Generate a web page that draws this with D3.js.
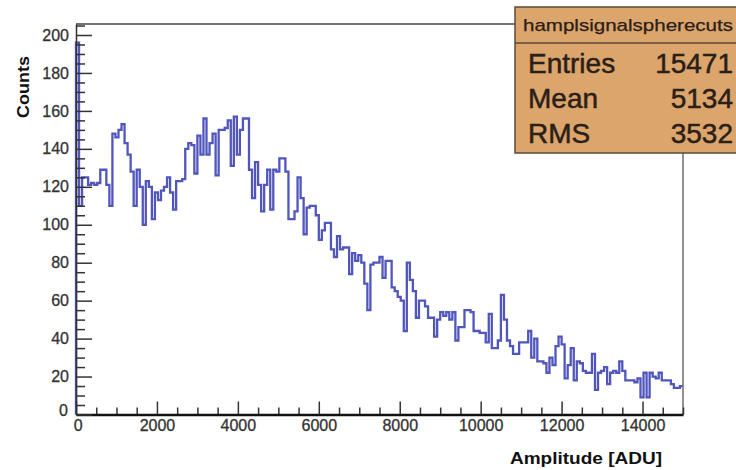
<!DOCTYPE html>
<html>
<head>
<meta charset="utf-8">
<script src="https://cdn.jsdelivr.net/npm/d3@7"></script>
<style>
  html, body { margin: 0; padding: 0; background: #ffffff; }
  svg { display: block; }
  text { font-family: "Liberation Sans", Arial, Helvetica, sans-serif; }
</style>
</head>
<body>
<svg id="chart" width="736" height="470"></svg>
<script>
// ---------------- DATA ----------------
const histName = "hamplsignalspherecuts";
const xTitle = "Amplitude [ADU]";
const yTitle = "Counts";
const xMin = 0, xMax = 15000, nBins = 200;
const counts = [
  196,110,125,125,121,122,121,122,129,129,
  121,110,148,146,150,153,143,137,128,110,
  129,120,100,123,120,103,117,113,118,120,
  125,117,108,123,123,124,140,143,142,127,
  147,137,156,137,143,148,126,150,150,151,
  155,131,157,137,150,156,156,129,114,133,
  121,107,121,129,108,129,128,135,135,128,
  103,103,107,125,114,95,109,110,110,105,
  92,97,101,101,87,83,94,87,88,88,
  74,85,81,84,80,69,55,79,80,80,
  83,72,81,81,67,65,62,60,44,80,
  71,65,51,60,60,57,51,51,41,50,
  54,52,54,50,54,39,46,46,55,55,
  54,44,44,43,43,38,53,35,35,39,
  63,50,39,36,32,32,38,38,38,44,
  30,40,28,28,27,22,30,26,36,41,
  37,19,26,35,18,28,27,23,22,22,
  32,13,22,23,25,16,22,23,22,28,
  23,18,18,18,17,19,9,22,9,22,
  20,19,22,18,18,18,16,14,14,15
];
const xTicks = [0, 2000, 4000, 6000, 8000, 10000, 12000, 14000];
const yTicks = [0, 20, 40, 60, 80, 100, 120, 140, 160, 180, 200];
const statLabels = ["Entries", "Mean", "RMS"];
const statValues = ["15471", "5134", "3532"];

// ---------------- LAYOUT ----------------
const L = 76, R = 683, T = 24, B = 414.5;
const yMaxAxis = 205.8;

const svg = d3.select("#chart");
const x = d3.scaleLinear().domain([xMin, xMax]).range([L, R]);
const y = d3.scaleLinear().domain([0, yMaxAxis]).range([B, T]);
const binW = (xMax - xMin) / nBins;

// Histogram step path
const pts = [[x(xMin), y(0)]];
counts.forEach((c, i) => {
  const x0 = xMin + i * binW, x1 = x0 + binW;
  pts.push([x(x0), y(c)]);
  pts.push([x(x1), y(c)]);
});
svg.append("path")
  .attr("d", d3.line()(pts))
  .attr("fill", "none")
  .attr("stroke", "#5156bd")
  .attr("stroke-width", 2.3)
  .attr("stroke-linejoin", "miter");

// Frame: top and right
svg.append("line").attr("x1", L).attr("x2", R).attr("y1", T).attr("y2", T)
  .attr("stroke", "#444").attr("stroke-width", 1.6);
svg.append("line").attr("x1", R).attr("x2", R).attr("y1", T).attr("y2", B)
  .attr("stroke", "#777").attr("stroke-width", 1.6);

// X axis (ticks inward/up)
const xMinorTicks = d3.range(xMin, xMax + 1, 500).filter(v => v % 2000 !== 0);
const gxMinor = svg.append("g").attr("transform", `translate(0,${B})`)
  .call(d3.axisBottom(x).tickValues(xMinorTicks).tickSizeInner(-7).tickSizeOuter(0).tickFormat(""));
const gx = svg.append("g").attr("transform", `translate(0,${B})`)
  .call(d3.axisBottom(x).tickValues(xTicks).tickSizeInner(-13).tickSizeOuter(0).tickPadding(5).tickFormat(d3.format("d")));
gx.select(".domain").attr("stroke", "#111").attr("stroke-width", 2.5);
gxMinor.select(".domain").remove();
[gx, gxMinor].forEach(g => g.selectAll(".tick line").attr("stroke", "#333").attr("stroke-width", 1.5));
gx.selectAll(".tick text")
  .attr("font-size", 16).attr("fill", "#333")
  .attr("stroke", "#333").attr("stroke-width", 0.3)
  .attr("font-family", "Liberation Sans, Arial, sans-serif");

// Y axis (ticks inward/right)
const yMinorTicks = d3.range(0, 206, 5).filter(v => v % 20 !== 0);
const gyMinor = svg.append("g").attr("transform", `translate(${L},0)`)
  .call(d3.axisLeft(y).tickValues(yMinorTicks).tickSizeInner(-9).tickSizeOuter(0).tickFormat(""));
const gy = svg.append("g").attr("transform", `translate(${L},0)`)
  .call(d3.axisLeft(y).tickValues(yTicks).tickSizeInner(-16).tickSizeOuter(0).tickPadding(7).tickFormat(d3.format("d")));
gy.select(".domain").attr("stroke", "#333").attr("stroke-width", 1.5);
gyMinor.select(".domain").remove();
[gy, gyMinor].forEach(g => g.selectAll(".tick line").attr("stroke", "#333").attr("stroke-width", 1.5));
gy.selectAll(".tick text")
  .attr("font-size", 16).attr("fill", "#333")
  .attr("stroke", "#333").attr("stroke-width", 0.3)
  .attr("font-family", "Liberation Sans, Arial, sans-serif");
// ROOT-style offset of the zero labels
gy.selectAll(".tick").filter(d => d === 0).select("text").attr("dy", "0.05em").attr("x", -8);
gx.selectAll(".tick").filter(d => d === 0).select("text").attr("dx", "0.1em");

// Axis titles
svg.append("text")
  .attr("x", 662).attr("y", 464)
  .attr("text-anchor", "end")
  .attr("font-size", 17).attr("font-weight", "bold").attr("fill", "#111")
  .attr("textLength", 152).attr("lengthAdjust", "spacingAndGlyphs")
  .text(xTitle);
svg.append("text")
  .attr("transform", "translate(29,118) rotate(-90)")
  .attr("text-anchor", "start")
  .attr("font-size", 17).attr("font-weight", "bold").attr("fill", "#111")
  .attr("textLength", 62).attr("lengthAdjust", "spacingAndGlyphs")
  .text(yTitle);

// Stats box
const bx = 515, by = 7, bw = 240, bh = 146, hdr = 36;
const box = svg.append("g");
box.append("rect").attr("x", bx).attr("y", by).attr("width", bw).attr("height", bh)
  .attr("fill", "#dba56b").attr("stroke", "#5b4a3a").attr("stroke-width", 1.5);
box.append("line").attr("x1", bx).attr("x2", bx + bw).attr("y1", by + hdr).attr("y2", by + hdr)
  .attr("stroke", "#5b4a3a").attr("stroke-width", 1.5);
box.append("text").attr("x", 523).attr("y", 31)
  .attr("font-size", 17).attr("fill", "#2a2018")
  .attr("stroke", "#2a2018").attr("stroke-width", 0.25)
  .attr("textLength", 210).attr("lengthAdjust", "spacingAndGlyphs")
  .text(histName);
statLabels.forEach((lab, i) => {
  box.append("text").attr("x", 528).attr("y", 73 + i * 35)
    .attr("font-size", 28).attr("fill", "#2a2018")
    .attr("stroke", "#2a2018").attr("stroke-width", 0.5).text(lab);
  box.append("text").attr("x", 733).attr("y", 73 + i * 35)
    .attr("text-anchor", "end")
    .attr("font-size", 28).attr("fill", "#2a2018")
    .attr("stroke", "#2a2018").attr("stroke-width", 0.5).text(statValues[i]);
});
</script>
</body>
</html>
